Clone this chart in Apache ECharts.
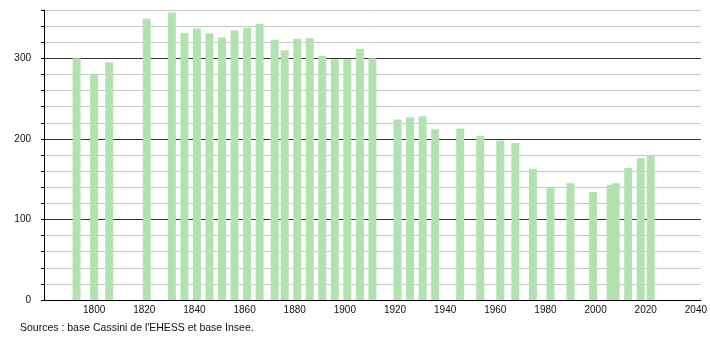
<!DOCTYPE html>
<html>
<head>
<meta charset="utf-8">
<script src="https://cdn.jsdelivr.net/npm/echarts@6/dist/echarts.min.js"></script>
<style>
  html, body { margin: 0; padding: 0; background: #fff; }
  #chart { width: 710px; height: 340px; }
</style>
</head>
<body>
<div id="chart"></div>
<script>
// census years and population
var years = [1793, 1800, 1806, 1821, 1831, 1836, 1841, 1846, 1851, 1856,
             1861, 1866, 1872, 1876, 1881, 1886, 1891, 1896, 1901, 1906,
             1911, 1921, 1926, 1931, 1936, 1946, 1954, 1962, 1968, 1975,
             1982, 1990, 1999, 2006, 2008, 2013, 2018, 2022];
var population = [300, 281, 295, 349, 357, 331, 337, 331, 326, 335,
                  338, 343, 323, 310, 324, 325, 303, 299, 299, 312,
                  300, 224, 227, 228, 212, 213, 204, 198, 195, 163,
                  140, 145, 134, 143, 145, 164, 176, 180];
var sourceText = "Sources : base Cassini de l'EHESS et base Insee.";

var myChart = echarts.init(document.getElementById("chart"));

var points = [];
for (var i = 0; i < years.length; i++) {
    points.push([years[i], population[i]]);
}

var font = "Liberation Sans";

var option = {
    animation: false,
    grid: {left: 44, right: 9, top: 10, bottom: 40},
    xAxis: {
        type: 'value',
        min: 1780,
        max: 2042,
        interval: 20,
        axisLine: {lineStyle: {color: '#000', width: 1}},
        axisTick: {show: false},
        splitLine: {show: false},
        axisLabel: {
            margin: 5,
            fontFamily: font,
            fontSize: 10,
            color: '#111',
            showMinLabel: false,
            showMaxLabel: false,
            formatter: function(v){
                return (v % 20 === 0 && v > 1780) ? String(v) : '';
            }
        }
    },
    yAxis: {
        type: 'value',
        min: 0,
        max: 360,
        interval: 20,
        axisLine: {show: true, lineStyle: {color: '#000', width: 1}},
        axisTick: {show: true, length: 3, lineStyle: {color: '#000'}},
        splitLine: {
            show: true,
            lineStyle: {color: ['#333', '#c8c8c8', '#c8c8c8', '#c8c8c8', '#c8c8c8'], width: 1}
        },
        axisLabel: {
            margin: 13,
            fontFamily: font,
            fontSize: 10,
            color: '#111',
            formatter: function(v){
                return v % 100 === 0 ? String(v) : '';
            }
        }
    },
    graphic: [{
        type: 'text',
        left: 20,
        top: 323,
        style: {text: sourceText, font: '10.5px "Liberation Sans"', fill: '#111'}
    }],
    series: [{
        type: 'bar',
        barWidth: 8,
        itemStyle: {color: '#b2e2b0'},
        data: points
    }]
};
myChart.setOption(option);
</script>
</body>
</html>
